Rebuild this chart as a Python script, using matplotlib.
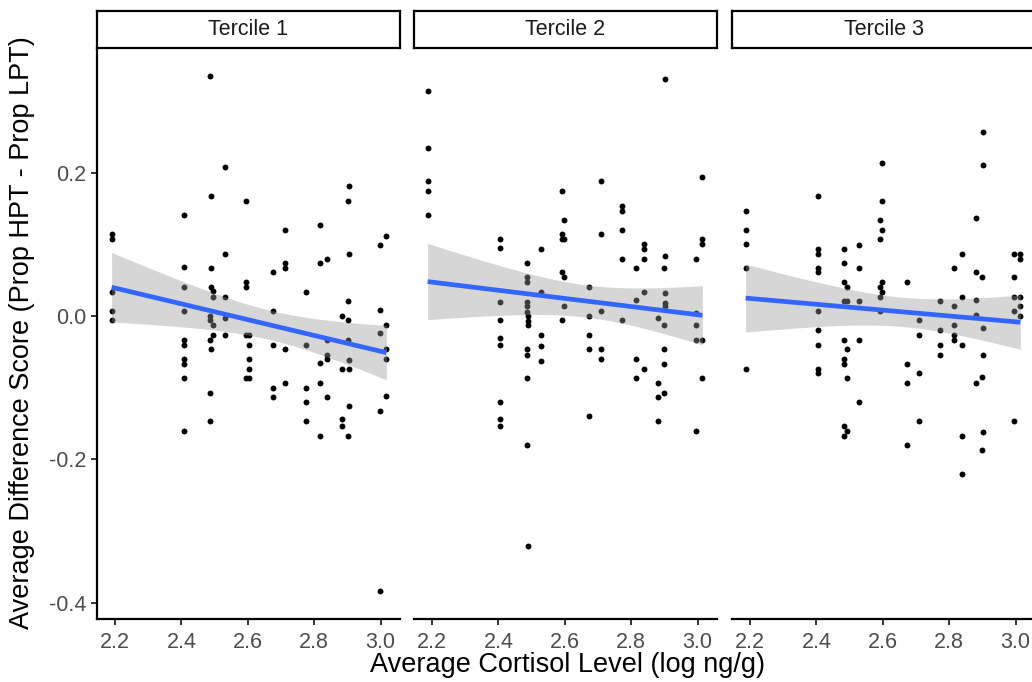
import numpy as np
import matplotlib
matplotlib.use("Agg")
import matplotlib.pyplot as plt

plt.rcParams["font.family"] = ["Liberation Sans", "DejaVu Sans"]

# data (x = log cortisol, y = difference score)
t1_x = [2.486, 2.530, 2.488, 2.593, 2.905, 2.900, 2.409,
        2.190, 2.190, 2.713, 2.817, 3.017, 2.997, 2.530, 2.904,
        2.713, 2.713, 2.817, 2.839, 2.676, 2.409, 2.488,
        2.593, 2.593, 2.409, 2.488, 2.495, 2.495, 2.530, 2.776, 2.190, 2.900,
        2.190, 2.190, 2.409, 2.676, 2.998, 2.486, 2.486, 2.495, 2.530, 2.884, 2.900, 3.016, 2.998,
        2.495, 2.530, 2.593, 2.602, 2.409, 2.409, 2.486, 2.602, 2.676, 2.776, 2.839, 2.900,
        2.488, 2.713, 3.016,
        2.409, 2.409, 2.409, 2.409, 2.486, 2.486, 2.602, 2.602, 2.593, 2.602,
        2.839, 2.839, 2.817, 2.884, 2.905, 2.905, 3.016, 2.676, 2.676, 2.713,
        2.776, 2.776, 2.776, 2.817, 2.839, 2.817, 2.884, 2.884, 2.905, 2.900, 3.016, 2.998, 2.998]
t1_y = [0.335, 0.208, 0.167, 0.161, 0.181, 0.161, 0.141,
        0.114, 0.107, 0.120, 0.127, 0.112, 0.099, 0.087, 0.087,
        0.074, 0.067, 0.074, 0.079, 0.061, 0.068, 0.067,
        0.048, 0.040, 0.040, 0.040, 0.035, 0.027, 0.027, 0.034, 0.034, 0.021,
        0.007, -0.006, 0.007, 0.007, 0.009, 0.000, -0.006, -0.013, -0.003, 0.000, -0.006, -0.013, -0.023,
        -0.026, -0.026, -0.026, -0.026, -0.033, -0.040, -0.033, -0.040, -0.040, -0.040, -0.033, -0.033,
        -0.046, -0.046, -0.046,
        -0.060, -0.067, -0.087, -0.160, -0.107, -0.147, -0.060, -0.074, -0.087, -0.087,
        -0.054, -0.060, -0.065, -0.074, -0.074, -0.061, -0.060, -0.100, -0.113, -0.094,
        -0.100, -0.120, -0.147, -0.094, -0.113, -0.167, -0.144, -0.153, -0.126, -0.167, -0.111, -0.133, -0.384]

t2_x = [2.187, 2.187, 2.187, 2.187, 2.187,
        2.901, 3.014, 2.710, 2.590, 2.598,
        2.590, 2.590, 2.598, 2.710,
        2.773, 2.773, 2.773, 2.773,
        2.837, 2.837, 2.837, 2.814, 2.901, 2.898, 2.995, 3.014, 3.014,
        2.405, 2.405, 2.528, 2.485, 2.485, 2.485, 2.590, 2.598, 2.528,
        2.405, 2.485, 2.485, 2.485, 2.490, 2.490, 2.490, 2.598, 2.590,
        2.673, 2.673, 2.673, 2.710, 2.773, 2.814, 2.837, 2.901, 2.901, 2.901, 2.881, 2.898,
        2.995, 2.995, 2.995, 3.014, 2.405, 2.405, 2.405, 2.528, 2.528,
        2.485, 2.673, 2.710, 2.898,
        2.485, 2.528, 2.710, 2.898,
        2.485, 2.405, 2.405, 2.405, 2.485, 2.490, 2.673,
        2.814, 2.837, 2.814, 2.881, 2.898, 2.881, 2.881, 3.014, 2.995]
t2_y = [0.314, 0.235, 0.188, 0.174, 0.141,
        0.331, 0.194, 0.188, 0.174, 0.134,
        0.114, 0.107, 0.107, 0.114,
        0.154, 0.147, 0.120, 0.080,
        0.100, 0.094, 0.080, 0.067, 0.084, 0.067, 0.080, 0.107, 0.100,
        0.107, 0.095, 0.093, 0.074, 0.054, 0.047, 0.061, 0.054, 0.034,
        0.020, 0.020, 0.014, 0.006, 0.000, -0.007, -0.013, 0.014, -0.006,
        0.040, 0.000, -0.026, 0.007, -0.006, 0.023, 0.034, 0.032, 0.018, 0.014, -0.003, -0.013,
        0.004, -0.013, -0.033, -0.033, -0.006, -0.030, -0.040, -0.026, -0.042,
        -0.046, -0.046, -0.046, -0.046,
        -0.054, -0.063, -0.060, -0.067,
        -0.087, -0.120, -0.143, -0.154, -0.180, -0.321, -0.140,
        -0.060, -0.074, -0.087, -0.094, -0.107, -0.113, -0.147, -0.087, -0.160]

t3_x = [2.187, 2.187, 2.187, 2.187,
        2.404, 2.404, 2.404, 2.404, 2.404, 2.404, 2.404, 2.404,
        2.484, 2.484, 2.484, 2.491, 2.484, 2.491, 2.484, 2.491,
        2.528, 2.528, 2.528, 2.528,
        2.597, 2.597, 2.590, 2.597, 2.590, 2.597, 2.590, 2.597, 2.590, 2.590,
        2.673, 2.710, 2.710, 2.773, 2.773, 2.773,
        2.814, 2.814, 2.814, 2.814, 2.814, 2.837, 2.837, 2.837,
        2.881, 2.881, 2.898, 2.881, 2.881, 2.901, 2.901, 2.901,
        2.995, 3.014, 3.014, 2.995, 2.995, 3.014, 2.995, 3.014, 3.014,
        2.187, 2.404, 2.404, 2.483, 2.483, 2.491, 2.528, 2.483, 2.491, 2.483,
        2.673, 2.673, 2.673, 2.710, 2.710, 2.773, 2.837, 2.837, 2.901, 2.898, 2.881, 2.901, 2.898, 2.995]
t3_y = [0.147, 0.120, 0.100, 0.067,
        0.167, 0.094, 0.087, 0.067, 0.061, 0.007, -0.020, -0.040,
        0.094, 0.074, 0.047, 0.040, 0.021, 0.021, -0.033, -0.046,
        0.099, 0.067, 0.021, -0.033,
        0.214, 0.161, 0.134, 0.120, 0.107, 0.047, 0.040, 0.034, 0.027, 0.007,
        0.047, -0.006, -0.026, 0.021, -0.020, -0.040,
        0.067, 0.014, -0.013, -0.026, -0.033, 0.087, 0.027, -0.040,
        0.137, 0.061, 0.054, 0.022, 0.001, 0.257, 0.211, -0.016,
        0.087, 0.087, 0.080, 0.054, 0.027, 0.027, 0.007, 0.014, 0.000,
        -0.074, -0.074, -0.080, -0.060, -0.067, -0.087, -0.120, -0.153, -0.160, -0.167,
        -0.067, -0.094, -0.180, -0.080, -0.147, -0.054, -0.167, -0.220, -0.055, -0.085, -0.094, -0.162, -0.187, -0.147]

panels = ["Tercile 1", "Tercile 2", "Tercile 3"]
xs = [t1_x, t2_x, t3_x]
ys = [t1_y, t2_y, t3_y]
x_ticks = [2.2, 2.4, 2.6, 2.8, 3.0]
y_ticks = [-0.4, -0.2, 0.0, 0.2]


def lm_band(x, y, n=80):
    # linear fit with 95% confidence band, like geom_smooth(method = "lm")
    x = np.asarray(x)
    y = np.asarray(y)
    b, a = np.polyfit(x, y, 1)
    resid = y - (a + b * x)
    df = len(x) - 2
    s = np.sqrt(np.sum(resid ** 2) / df)
    z = 1.959964
    t = z + (z ** 3 + z) / (4 * df) + (5 * z ** 5 + 16 * z ** 3 + 3 * z) / (96 * df ** 2)
    xg = np.linspace(x.min(), x.max(), n)
    fit = a + b * xg
    se = s * np.sqrt(1 / len(x) + (xg - x.mean()) ** 2 / np.sum((x - x.mean()) ** 2))
    return xg, fit, fit - t * se, fit + t * se


W, H = 1032, 682
fig = plt.figure(figsize=(W / 100, H / 100), dpi=100)

lefts = [97, 414, 732]
pw = 303
top, bottom = 50, 619
strip_top, strip_bot = 11, 48

for i, name in enumerate(panels):
    ax = fig.add_axes([lefts[i] / W, (H - bottom) / H, pw / W, (bottom - top) / H])
    ax.scatter(xs[i], ys[i], s=18, color="black", linewidths=0, zorder=2)
    xg, fit, lo, hi = lm_band(xs[i], ys[i])
    ax.fill_between(xg, lo, hi, color="#999999", alpha=0.4, linewidth=0, zorder=3)
    ax.plot(xg, fit, color="#3366FF", lw=3.4, zorder=4, solid_capstyle="butt")

    ax.set_xlim(2.146, 3.058)
    ax.set_ylim(-0.4225, 0.371)
    ax.set_xticks(x_ticks)
    ax.set_xticklabels([f"{v:.1f}" for v in x_ticks])
    ax.set_yticks(y_ticks)
    ax.set_yticklabels([f"{v:.1f}" for v in y_ticks])
    for sp in ["top", "right"]:
        ax.spines[sp].set_visible(False)
    ax.spines["bottom"].set_linewidth(1.6)
    ax.spines["left"].set_linewidth(1.6)
    ax.tick_params(axis="both", length=4, width=1.4, color="#333333",
                   labelsize=15.5, labelcolor="#4D4D4D")
    ax.tick_params(axis="x", pad=5)
    ax.tick_params(axis="y", pad=4)
    if i > 0:
        ax.spines["left"].set_visible(False)
        ax.tick_params(axis="y", left=False, labelleft=False)

    # facet strip
    sax = fig.add_axes([lefts[i] / W, (H - strip_bot) / H, pw / W, (strip_bot - strip_top) / H])
    sax.set_xticks([])
    sax.set_yticks([])
    for sp in sax.spines.values():
        sp.set_linewidth(1.6)
        sp.set_color("black")
    sax.text(0.5, 0.5, name, ha="center", va="center", fontsize=15.5, color="#1A1A1A",
             transform=sax.transAxes)

fig.text(568 / W, 1 - 665 / H, "Average Cortisol Level (log ng/g)", ha="center", va="center",
         fontsize=19.5)
fig.text(22 / W, 1 - 333 / H, "Average Difference Score (Prop HPT - Prop LPT)", ha="center",
         va="center", rotation=90, fontsize=19.5)

fig.savefig("out.png", dpi=100)
